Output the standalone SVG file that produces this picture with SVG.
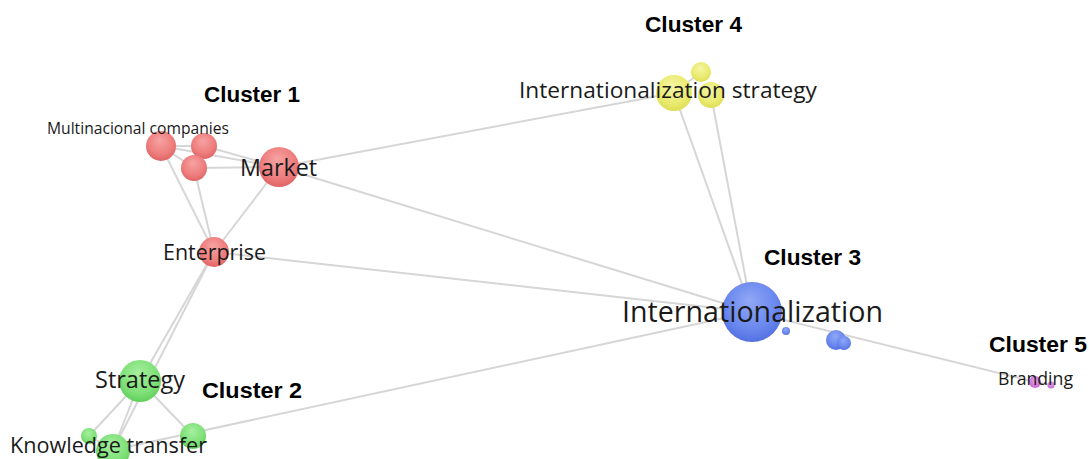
<svg xmlns="http://www.w3.org/2000/svg" width="1089" height="459" viewBox="0 0 1089 459">
<style>
.edge{stroke:#d6d6d6;stroke-width:2;fill:none}
.lbl{font-family:"Open Sans","Noto Sans","DejaVu Sans",sans-serif;fill:#1a1a1a}
.cl{font-family:"Liberation Sans",Arial,sans-serif;font-weight:bold;font-size:22px;fill:#000}
.red{fill:url(#gRed)}
.green{fill:url(#gGreen)}
.yellow{fill:url(#gYellow)}
.blue{fill:url(#gBlue)}
.pink{fill:url(#gPink)}
</style>
<defs>
<radialGradient id="gRed" cx="0.5" cy="0.4" r="0.6" fx="0.45" fy="0.3">
<stop offset="0" stop-color="#f6a3a3"/><stop offset="0.7" stop-color="#ee7d7d"/><stop offset="1" stop-color="#e06464"/></radialGradient>
<radialGradient id="gGreen" cx="0.5" cy="0.4" r="0.6" fx="0.45" fy="0.3">
<stop offset="0" stop-color="#a6f0a0"/><stop offset="0.7" stop-color="#7fe078"/><stop offset="1" stop-color="#62d05c"/></radialGradient>
<radialGradient id="gYellow" cx="0.5" cy="0.4" r="0.6" fx="0.45" fy="0.3">
<stop offset="0" stop-color="#f6f6a6"/><stop offset="0.7" stop-color="#eaea70"/><stop offset="1" stop-color="#dede55"/></radialGradient>
<radialGradient id="gBlue" cx="0.5" cy="0.4" r="0.6" fx="0.45" fy="0.3">
<stop offset="0" stop-color="#90a8f6"/><stop offset="0.7" stop-color="#6a88ee"/><stop offset="1" stop-color="#5370e2"/></radialGradient>
<radialGradient id="gPink" cx="0.5" cy="0.4" r="0.6">
<stop offset="0" stop-color="#e6a0ea"/><stop offset="1" stop-color="#cc66d4"/></radialGradient>
</defs>
<rect width="1089" height="459" fill="#ffffff"/>
<g id="connectors">
<line class="edge" x1="161" y1="146" x2="204" y2="146"/>
<line class="edge" x1="161" y1="146" x2="194" y2="168"/>
<line class="edge" x1="161" y1="146" x2="279" y2="167"/>
<line class="edge" x1="204" y1="146" x2="279" y2="167"/>
<line class="edge" x1="194" y1="168" x2="279" y2="167"/>
<line class="edge" x1="161" y1="146" x2="214" y2="252"/>
<line class="edge" x1="194" y1="168" x2="214" y2="252"/>
<line class="edge" x1="279" y1="167" x2="214" y2="252"/>
<line class="edge" x1="279" y1="167" x2="674" y2="93"/>
<line class="edge" x1="279" y1="167" x2="752" y2="312"/>
<line class="edge" x1="214" y1="252" x2="752" y2="312"/>
<line class="edge" x1="214" y1="252" x2="140" y2="381"/>
<line class="edge" x1="214" y1="252" x2="113" y2="450"/>
<line class="edge" x1="140" y1="381" x2="89" y2="436"/>
<line class="edge" x1="140" y1="381" x2="113" y2="450"/>
<line class="edge" x1="140" y1="381" x2="193" y2="436"/>
<line class="edge" x1="89" y1="436" x2="113" y2="450"/>
<line class="edge" x1="113" y1="450" x2="752" y2="312"/>
<line class="edge" x1="674" y1="93" x2="701" y2="72"/>
<line class="edge" x1="674" y1="93" x2="752" y2="312"/>
<line class="edge" x1="711" y1="95" x2="752" y2="312"/>
<line class="edge" x1="752" y1="312" x2="1035" y2="382"/>
<line class="edge" x1="1035" y1="382" x2="1051" y2="385"/>
</g>
<g id="node-multinacional-companies">
<circle class="red" cx="161" cy="146" r="15"/>
<circle class="red" cx="204" cy="146" r="13"/>
<circle class="red" cx="194" cy="168" r="13"/>
<text class="lbl" x="47" y="134" font-size="15.5" textLength="182" lengthAdjust="spacingAndGlyphs">Multinacional companies</text>
</g>
<g id="node-market">
<circle class="red" cx="279" cy="167" r="20"/>
<text class="lbl" x="240" y="176" font-size="23.5" textLength="77" lengthAdjust="spacingAndGlyphs">Market</text>
</g>
<g id="node-enterprise">
<circle class="red" cx="214" cy="252" r="15"/>
<text class="lbl" x="163" y="260" font-size="21" textLength="103" lengthAdjust="spacingAndGlyphs">Enterprise</text>
</g>
<g id="node-strategy">
<circle class="green" cx="140" cy="381" r="21"/>
<text class="lbl" x="95" y="388" font-size="23" textLength="90" lengthAdjust="spacingAndGlyphs">Strategy</text>
</g>
<g id="node-knowledge-transfer">
<circle class="green" cx="89" cy="436" r="8"/>
<circle class="green" cx="193" cy="436" r="13"/>
<circle class="green" cx="113" cy="451" r="17"/>
<text class="lbl" x="10" y="453" font-size="21.5" textLength="197" lengthAdjust="spacingAndGlyphs">Knowledge transfer</text>
</g>
<g id="node-internationalization-strategy">
<circle class="yellow" cx="674" cy="93" r="18"/>
<circle class="yellow" cx="701" cy="72" r="10"/>
<circle class="yellow" cx="711" cy="95" r="13"/>
<text class="lbl" x="519" y="98" font-size="22.5" textLength="298" lengthAdjust="spacingAndGlyphs">Internationalization strategy</text>
</g>
<g id="node-internationalization">
<circle class="blue" cx="752" cy="312" r="30"/>
<circle class="blue" cx="786" cy="331" r="4"/>
<circle class="blue" cx="836" cy="340" r="10"/>
<circle class="blue" cx="844" cy="343" r="7"/>
<text class="lbl" x="622" y="322" font-size="29" textLength="261" lengthAdjust="spacingAndGlyphs">Internationalization</text>
</g>
<g id="node-branding">
<circle class="pink" cx="1035" cy="382" r="6"/>
<circle class="pink" cx="1051" cy="385" r="3.5"/>
<text class="lbl" x="998" y="385" font-size="18" textLength="75" lengthAdjust="spacingAndGlyphs">Branding</text>
</g>
<g id="cluster-labels">
<text class="cl" x="204" y="102" textLength="96" lengthAdjust="spacingAndGlyphs">Cluster 1</text>
<text class="cl" x="202" y="398" textLength="100" lengthAdjust="spacingAndGlyphs">Cluster 2</text>
<text class="cl" x="764" y="265" textLength="97" lengthAdjust="spacingAndGlyphs">Cluster 3</text>
<text class="cl" x="645" y="32" textLength="97" lengthAdjust="spacingAndGlyphs">Cluster 4</text>
<text class="cl" x="989" y="352" textLength="98" lengthAdjust="spacingAndGlyphs">Cluster 5</text>
</g>
</svg>
